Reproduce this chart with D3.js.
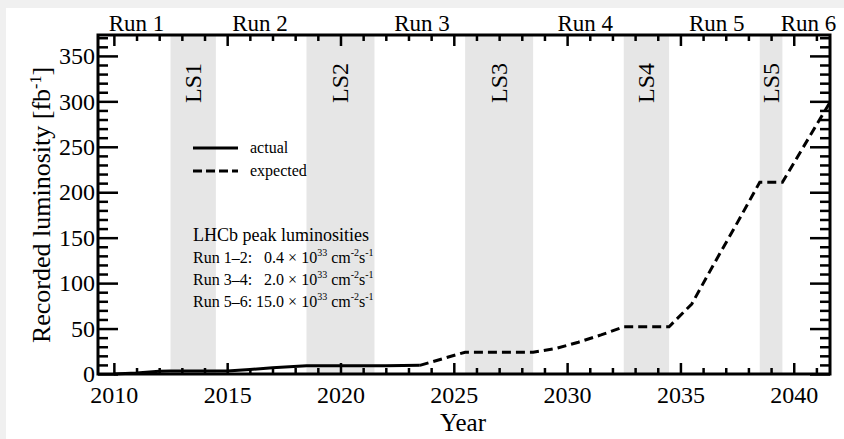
<!DOCTYPE html>
<html>
<head>
<meta charset="utf-8">
<script src="https://cdn.jsdelivr.net/npm/d3@7/dist/d3.min.js"></script>
<style>
html,body{margin:0;padding:0;background:#f0f0f0;}
svg{display:block;}
text{font-family:"Liberation Serif","Times New Roman",serif;fill:#000;}
</style>
</head>
<body>
<svg id="chart" width="844" height="439"></svg>
<script>
// ---- data ----
const actualYears  = [2010, 2011, 2012, 2012.5, 2015, 2016, 2017, 2018.5, 2022, 2023.5];
const actualValues = [0, 1.1, 3.0, 3.2, 3.4, 5.0, 6.8, 9.0, 9.2, 9.5];
const expectedYears  = [2023.5, 2025.5, 2028.5, 2029.5, 2030.5, 2031.5, 2032.5, 2034.5, 2035.5, 2036.5, 2037.5, 2038.5, 2039.5, 2041.6];
const expectedValues = [9.5, 24, 24, 28, 35, 43, 52, 52, 77, 122, 166, 211, 211, 299];
const lsNames = ["LS1", "LS2", "LS3", "LS4", "LS5"];
const lsStart = [2012.5, 2018.5, 2025.5, 2032.5, 2038.5];
const lsEnd   = [2014.5, 2021.5, 2028.5, 2034.5, 2039.5];
const runNames = ["Run 1", "Run 2", "Run 3", "Run 4", "Run 5", "Run 6"];
const runCenters = [2011.0, 2016.45, 2023.6, 2030.8, 2036.6, 2040.65];
const xTickLabels = [2010, 2015, 2020, 2025, 2030, 2035, 2040];
const xMinorTicks = d3.range(2010, 2042, 1);
const yTickLabels = [0, 50, 100, 150, 200, 250, 300, 350];
const yMinorTicks = d3.range(0, 371, 10);
const legendNames = ["actual", "expected"];
const peakTitle = "LHCb peak luminosities";
const peakRuns = ["Run 1\u20132:", "Run 3\u20134:", "Run 5\u20136:"];
const peakValues = ["0.4", "2.0", "15.0"];

// ---- layout ----
const L = 98, R = 830, T = 35, B = 374;
const svg = d3.select("#chart");
svg.append("rect").attr("x", 6).attr("y", 8).attr("width", 838).attr("height", 431).attr("fill", "#fff");

const x = d3.scaleLinear().domain([2009.3, 2041.6]).range([L, R]);
const y = d3.scaleLinear().domain([0, 373]).range([B, T]);

// shaded long shutdowns
const ls = lsNames.map((n, i) => ({n, s: lsStart[i], e: lsEnd[i]}));
svg.append("g").selectAll("rect").data(ls).join("rect")
  .attr("x", d => x(d.s)).attr("width", d => x(d.e) - x(d.s))
  .attr("y", T).attr("height", B - T).attr("fill", "#e6e6e6");
svg.append("g").selectAll("text").data(ls).join("text")
  .attr("transform", d => `translate(${x((d.s + d.e) / 2) + 8},83) rotate(-90)`)
  .attr("text-anchor", "middle").attr("font-size", 24).text(d => d.n);

// lines
const line = d3.line().x(d => x(d[0])).y(d => y(d[1]));
svg.append("path").datum(actualYears.map((v, i) => [v, actualValues[i]]))
  .attr("d", line).attr("fill", "none").attr("stroke", "#000").attr("stroke-width", 3);
svg.append("path").datum(expectedYears.map((v, i) => [v, expectedValues[i]]))
  .attr("d", line).attr("fill", "none").attr("stroke", "#000").attr("stroke-width", 3)
  .attr("stroke-dasharray", "9,5");

// axes
function styleAxis(g, w) {
  g.select(".domain").remove();
  g.selectAll(".tick line").attr("stroke", "#000").attr("stroke-width", w);
  g.selectAll("text").attr("font-family", "Liberation Serif, serif").attr("fill", "#000");
}
const gx = svg.append("g").attr("transform", `translate(0,${B})`)
  .call(d3.axisBottom(x).tickValues(xTickLabels).tickFormat(d3.format("d")).tickSizeInner(-11).tickSizeOuter(0).tickPadding(12));
styleAxis(gx, 2.5); gx.selectAll("text").attr("font-size", 24);
const gxm = svg.append("g").attr("transform", `translate(0,${B})`)
  .call(d3.axisBottom(x).tickValues(xMinorTicks.filter(v => v % 5)).tickFormat("").tickSizeInner(-6).tickSizeOuter(0));
styleAxis(gxm, 2.5);
const gt = svg.append("g").attr("transform", `translate(0,${T})`)
  .call(d3.axisTop(x).tickValues(xTickLabels).tickFormat("").tickSizeInner(-11).tickSizeOuter(0));
styleAxis(gt, 2.5);
const gtm = svg.append("g").attr("transform", `translate(0,${T})`)
  .call(d3.axisTop(x).tickValues(xMinorTicks.filter(v => v % 5)).tickFormat("").tickSizeInner(-6).tickSizeOuter(0));
styleAxis(gtm, 2.5);

const gy = svg.append("g").attr("transform", `translate(${L},0)`)
  .call(d3.axisLeft(y).tickValues(yTickLabels).tickFormat(d3.format("d")).tickSizeInner(-20).tickSizeOuter(0).tickPadding(3));
styleAxis(gy, 2.5); gy.selectAll("text").attr("font-size", 24);
const gym = svg.append("g").attr("transform", `translate(${L},0)`)
  .call(d3.axisLeft(y).tickValues(yMinorTicks.filter(v => v % 50)).tickFormat("").tickSizeInner(-10).tickSizeOuter(0));
styleAxis(gym, 2.5);
const gr = svg.append("g").attr("transform", `translate(${R},0)`)
  .call(d3.axisRight(y).tickValues(yTickLabels).tickFormat("").tickSizeInner(-20).tickSizeOuter(0));
styleAxis(gr, 2.5);
const grm = svg.append("g").attr("transform", `translate(${R},0)`)
  .call(d3.axisRight(y).tickValues(yMinorTicks.filter(v => v % 50)).tickFormat("").tickSizeInner(-10).tickSizeOuter(0));
styleAxis(grm, 2.5);

// frame
svg.append("rect").attr("x", L).attr("y", T).attr("width", R - L).attr("height", B - T)
  .attr("fill", "none").attr("stroke", "#000").attr("stroke-width", 3);

// run labels on top
svg.append("g").selectAll("text").data(runNames).join("text")
  .attr("x", (d, i) => x(runCenters[i])).attr("y", 31)
  .attr("text-anchor", "middle").attr("font-size", 23).text(d => d);

// axis titles
svg.append("text").attr("x", 463).attr("y", 431).attr("text-anchor", "middle")
  .attr("font-size", 25).text("Year");
const yt = svg.append("text").attr("transform", "translate(50,205) rotate(-90)")
  .attr("text-anchor", "middle").attr("font-size", 26);
yt.append("tspan").text("Recorded luminosity [fb");
yt.append("tspan").attr("dy", -9).attr("font-size", 16).text("-1");
yt.append("tspan").attr("dy", 9).text("]");

// legend
const legY = [148, 171];
legendNames.forEach((n, i) => {
  svg.append("line").attr("x1", 193).attr("x2", 238).attr("y1", legY[i]).attr("y2", legY[i])
    .attr("stroke", "#000").attr("stroke-width", 3)
    .attr("stroke-dasharray", i === 1 ? "9,4" : null);
  svg.append("text").attr("x", 250).attr("y", legY[i] + 5).attr("font-size", 16).text(n);
});

// peak luminosity text
svg.append("text").attr("x", 193).attr("y", 241).attr("font-size", 18).text(peakTitle);
peakRuns.forEach((r, i) => {
  const t = svg.append("text").attr("x", 193).attr("y", 263 + i * 22).attr("font-size", 16)
    .attr("xml:space", "preserve");
  t.append("tspan").text(r + (i < 2 ? "   " : " ") + peakValues[i] + " \u00d7 10");
  t.append("tspan").attr("dy", -7).attr("font-size", 10).text("33");
  t.append("tspan").attr("dy", 7).text(" cm");
  t.append("tspan").attr("dy", -7).attr("font-size", 10).text("-2");
  t.append("tspan").attr("dy", 7).text("s");
  t.append("tspan").attr("dy", -7).attr("font-size", 10).text("-1");
});
</script>
</body>
</html>
